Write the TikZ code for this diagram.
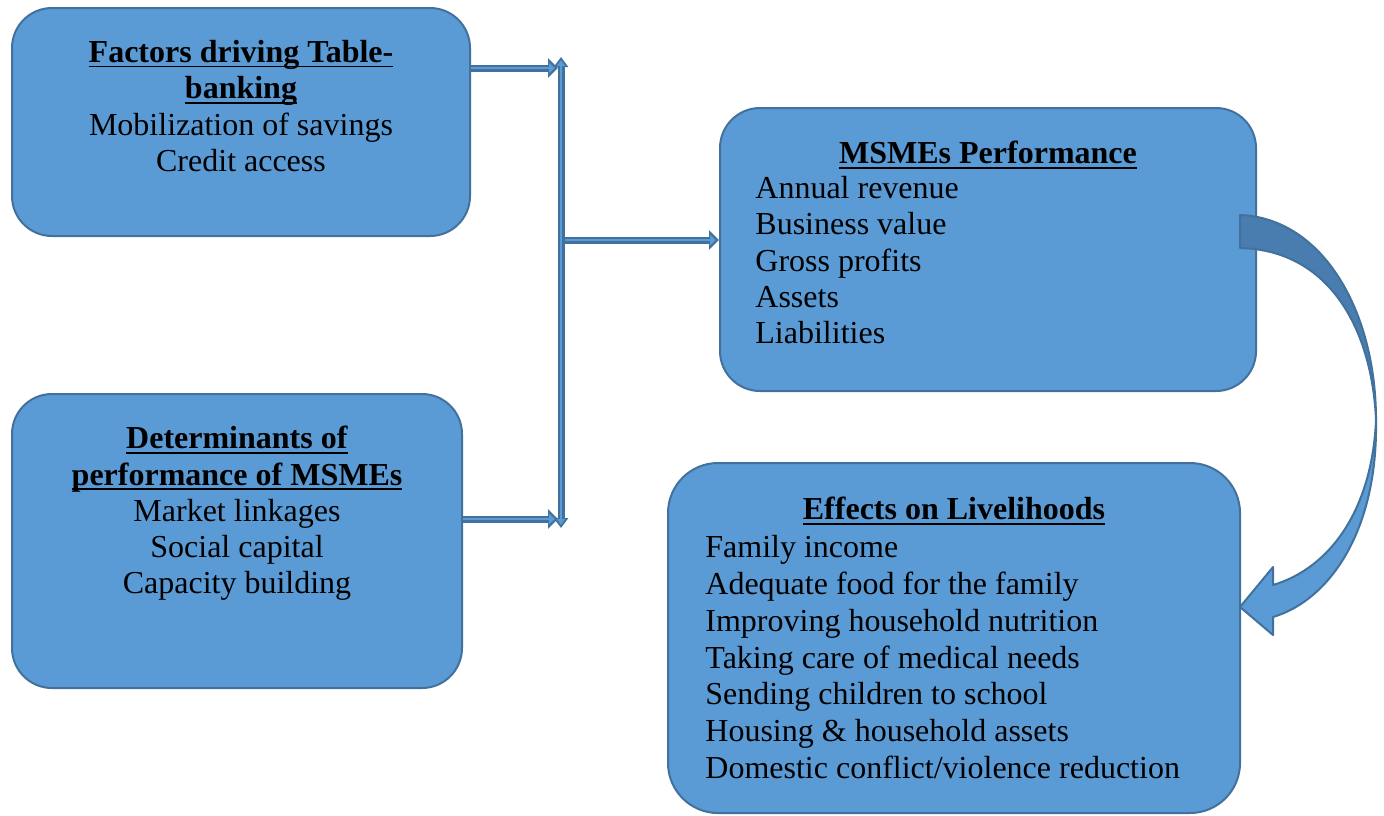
\documentclass[tikz,border=0pt]{standalone}
\usepackage{fontspec}
\setmainfont{Liberation Serif}
\usetikzlibrary{arrows.meta}

\definecolor{boxfill}{HTML}{5B9BD5}
\definecolor{boxline}{HTML}{41719C}
\definecolor{arrowdark}{HTML}{4A7DAF}

\newsavebox\hdbox
\newcommand{\ulhead}[1]{\sbox\hdbox{\textbf{#1}}\usebox\hdbox\llap{\rule[-2.4pt]{\wd\hdbox}{0.9pt}}}

\begin{document}
\begin{tikzpicture}[x=0.5pt,y=-0.5pt,
    panel/.style={draw=boxline,fill=boxfill,line width=1pt,rounded corners=20pt,inner sep=0pt},
    txt/.style={inner sep=0pt,font=\fontsize{16}{18.1}\selectfont},
    flow/.style={draw=boxline,line width=3.5pt,-{Triangle[length=5pt,width=9.5pt]}},
    flowin/.style={draw=boxfill,line width=1.4pt,shorten >=1.6pt,-{Triangle[length=2.8pt,width=5pt]}},
    flowboth/.style={draw=boxline,line width=3.5pt,{Triangle[length=5pt,width=7pt]}-{Triangle[length=5pt,width=7pt]}},
    flowbothin/.style={draw=boxfill,line width=1.4pt,shorten >=1.6pt,shorten <=1.6pt,{Triangle[length=2.8pt,width=3.8pt]}-{Triangle[length=2.8pt,width=3.8pt]}}]
    \useasboundingbox (0,0) rectangle (1384,815);

    \node[panel,minimum width=229pt,minimum height=114pt] (factors) at (241,122) {};
    \node[panel,minimum width=225pt,minimum height=147pt] (determ) at (237,541) {};
    \node[panel,minimum width=268pt,minimum height=141.5pt] (perf) at (988,249.5) {};
    \node[panel,rounded corners=25pt,minimum width=286pt,minimum height=175pt] (effects) at (954,638) {};

    \node[txt,align=center,anchor=north] (factorstxt) at (241,40)
        {\ulhead{Factors driving Table-}\\\ulhead{banking}\\Mobilization of savings\\Credit access};
    \node[txt,align=center,anchor=north] (determtxt) at (237,426)
        {\ulhead{Determinants of}\\\ulhead{performance of MSMEs}\\Market linkages\\Social capital\\Capacity building};
    \node[txt,anchor=north] (perfhead) at (988,141) {\ulhead{MSMEs Performance}};
    \node[txt,align=left,anchor=north west] (perfitems) at (755,176)
        {Annual revenue\\Business value\\Gross profits\\Assets\\Liabilities};
    \node[txt,anchor=north] (effectshead) at (954,497) {\ulhead{Effects on Livelihoods}};
    \node[txt,align=left,anchor=north west,font=\fontsize{16}{18.4}\selectfont] (effectsitems) at (705,535)
        {Family income\\Adequate food for the family\\Improving household nutrition\\Taking care of medical needs\\Sending children to school\\Housing \& household assets\\Domestic conflict/violence reduction};

    % joining bar
    \coordinate (bustop) at (561,57);
    \coordinate (busbot) at (561,528);
    \coordinate (intop) at (558,68);
    \coordinate (inbot) at (558,519);
    \coordinate (out) at (565,240);
    \draw[flowboth] (bustop) -- (busbot);
    \draw[flowbothin] (bustop) -- (busbot);
    \draw[flow] (factors.east |- intop) -- (intop);
    \draw[flowin] (factors.east |- intop) -- (intop);
    \draw[flow] (determ.east |- inbot) -- (inbot);
    \draw[flowin] (determ.east |- inbot) -- (inbot);
    \draw[flow] (out) -- (out -| perf.west);
    \draw[flowin] (out) -- (out -| perf.west);

    % curved arrow
    \draw[draw=boxline,fill=arrowdark,line width=1pt,line join=round]
        (1240,215) .. controls (1322,218) and (1376,310) .. (1376,420)
        .. controls (1372,330) and (1330,250) .. (1240,248) -- cycle;
    \draw[draw=boxline,fill=boxfill,line width=1pt,line join=round]
        (1376,420) .. controls (1378,530) and (1330,600) .. (1273,617)
        -- (1273,635) -- (1240,607) -- (1273,567) -- (1273,585)
        .. controls (1330,568) and (1372,510) .. (1376,420) -- cycle;
\end{tikzpicture}
\end{document}
